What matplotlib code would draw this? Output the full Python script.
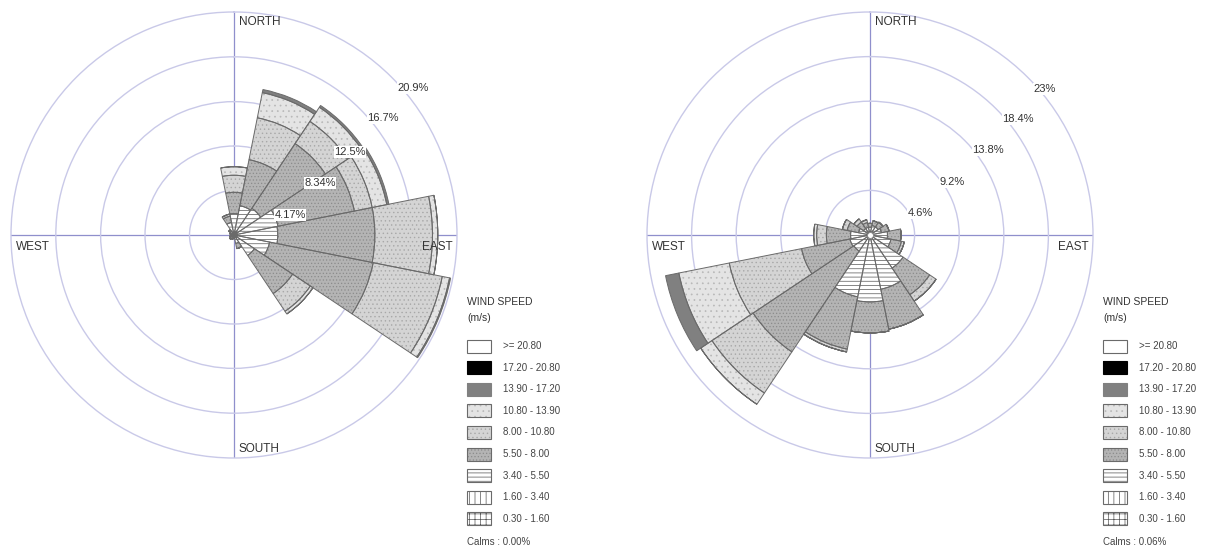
import numpy as np
import matplotlib
matplotlib.use('Agg')
import matplotlib.pyplot as plt
from matplotlib.patches import Rectangle

plt.rcParams['font.family'] = ['Liberation Sans', 'DejaVu Sans']
plt.rcParams['hatch.linewidth'] = 0.5

# 16 compass sectors, clockwise from north
directions = ['N', 'NNE', 'NE', 'ENE', 'E', 'ESE', 'SE', 'SSE',
              'S', 'SSW', 'SW', 'WSW', 'W', 'WNW', 'NW', 'NNW']

speed_bins = ['0.30 - 1.60', '1.60 - 3.40', '3.40 - 5.50', '5.50 - 8.00',
              '8.00 - 10.80', '10.80 - 13.90', '13.90 - 17.20',
              '17.20 - 20.80', '>= 20.80']

# frequency (%) per speed bin for each direction - station A
freq_a = [
    [0.0, 0.1, 0.1, 0.1, 0.1, 0.1, 0.1, 0.0, 0.0, 0.0, 0.0, 0.0, 0.0, 0.0, 0.0, 0.0],  # 0.3-1.6
    [0.2, 0.2, 0.2, 0.2, 0.2, 0.2, 0.2, 0.1, 0.0, 0.0, 0.0, 0.0, 0.0, 0.0, 0.1, 0.2],  # 1.6-3.4
    [1.8, 2.5, 2.7, 3.9, 3.8, 3.1, 2.0, 0.7, 0.3, 0.4, 0.4, 0.4, 0.3, 0.4, 0.4, 1.0],  # 3.4-5.5
    [2.0, 4.4, 7.3, 7.3, 9.1, 9.9, 4.3, 0.5, 0.0, 0.0, 0.1, 0.0, 0.0, 0.0, 0.1, 0.6],  # 5.5-8
    [1.6, 4.0, 2.5, 1.7, 5.4, 6.6, 2.0, 0.0, 0.0, 0.0, 0.0, 0.0, 0.0, 0.0, 0.0, 0.2],  # 8-10.8
    [0.8, 2.4, 1.6, 1.4, 0.5, 0.7, 0.3, 0.0, 0.0, 0.0, 0.0, 0.0, 0.0, 0.0, 0.0, 0.0],  # 10.8-13.9
    [0.0, 0.3, 0.2, 0.2, 0.0, 0.1, 0.0, 0.0, 0.0, 0.0, 0.0, 0.0, 0.0, 0.0, 0.0, 0.0],  # 13.9-17.2
    [0.0] * 16,
    [0.0] * 16,
]

# station B
freq_b = [
    [0.1, 0.1, 0.1, 0.1, 0.1, 0.1, 0.1, 0.1, 0.1, 0.1, 0.1, 0.1, 0.1, 0.1, 0.1, 0.1],
    [0.2, 0.2, 0.2, 0.2, 0.2, 0.2, 0.2, 0.2, 0.2, 0.2, 0.2, 0.2, 0.2, 0.2, 0.2, 0.2],
    [0.5, 0.7, 0.7, 0.9, 1.5, 1.9, 3.8, 5.4, 6.6, 6.2, 1.7, 1.8, 1.7, 0.9, 0.5, 0.5],
    [0.4, 0.5, 0.6, 0.8, 1.4, 1.1, 3.3, 4.2, 3.2, 5.5, 12.5, 5.1, 2.5, 1.2, 0.8, 0.5],
    [0.0, 0.0, 0.0, 0.0, 0.0, 0.3, 0.8, 0.0, 0.0, 0.3, 5.1, 7.6, 1.0, 0.5, 0.4, 0.3],
    [0.0, 0.0, 0.0, 0.0, 0.0, 0.0, 0.0, 0.0, 0.0, 0.0, 1.4, 5.3, 0.3, 0.0, 0.0, 0.0],
    [0.0, 0.0, 0.0, 0.0, 0.0, 0.0, 0.0, 0.0, 0.0, 0.0, 0.0, 1.4, 0.0, 0.0, 0.0, 0.0],
    [0.0] * 16,
    [0.0] * 16,
]

rings_a = [4.17, 8.34, 12.5, 16.7, 20.9]
ring_labels_a = ['4.17%', '8.34%', '12.5%', '16.7%', '20.9%']
rings_b = [4.6, 9.2, 13.8, 18.4, 23]
ring_labels_b = ['4.6%', '9.2%', '13.8%', '18.4%', '23%']
calms_a = '0.00%'
calms_b = '0.06%'

# fill / hatch style for each speed bin
bin_face = ['white', 'white', 'white', '#b4b4b4', '#d4d4d4', '#e4e4e4',
            '#808080', 'black', 'white']
bin_hatch = ['+++', '|||', '----', '.....', '....', '...', None, None, None]
bin_hatch_color = ['#555555', '#555555', '#555555', '#8c8c8c', '#a8a8a8', '#b8b8b8',
                   '#808080', 'black', 'white']
outline = '#6a6a6a'

ring_color = '#c9c9e8'
cross_color = '#8f8fcc'


def draw_rose(ax, freq, rings, ring_labels, label_offsets):
    theta = np.radians(np.arange(16) * 22.5)
    width = np.radians(22.5)
    ax.set_theta_zero_location('N')
    ax.set_theta_direction(-1)
    rmax = rings[-1]
    ax.set_ylim(0, rmax)

    # concentric rings, no angle grid
    ax.set_yticks(rings[:-1])
    ax.set_yticklabels([])
    ax.set_xticks([])
    ax.yaxis.grid(True, color=ring_color, linewidth=1.0)
    ax.spines['polar'].set_color(ring_color)
    ax.spines['polar'].set_linewidth(1.0)

    # N-S and E-W axis lines
    for t in [0, np.pi / 2, np.pi, 3 * np.pi / 2]:
        ax.plot([t, t], [0, rmax], color=cross_color, lw=0.9, zorder=0.5)

    bottom = np.zeros(16)
    for i, vals in enumerate(freq):
        vals = np.array(vals)
        if vals.sum() == 0:
            continue
        # fill + texture, then outline on top
        ax.bar(theta, vals, width=width, bottom=bottom, color=bin_face[i],
               hatch=bin_hatch[i], edgecolor=bin_hatch_color[i], linewidth=0,
               zorder=2)
        ax.bar(theta, vals, width=width, bottom=bottom, fill=False,
               edgecolor=outline, linewidth=0.7, zorder=3)
        bottom += vals

    # percentage labels along a diagonal
    for lab, (dx, dy) in zip(ring_labels, label_offsets):
        ax.text(0.5 + dx / 446, 0.5 + dy / 446, lab, transform=ax.transAxes,
                ha='center', va='center', fontsize=8, color='#333333', zorder=5,
                bbox=dict(facecolor='white', edgecolor='none', pad=0.4))

    kw = dict(transform=ax.transAxes, fontsize=8.5, color='#333333', va='center')
    ax.text(0.511, 0.978, 'NORTH', ha='left', **kw)
    ax.text(0.511, 0.020, 'SOUTH', ha='left', **kw)
    ax.text(0.010, 0.474, 'WEST', ha='left', **kw)
    ax.text(0.990, 0.474, 'EAST', ha='right', **kw)


def draw_legend(lax, x0, calms):
    lax.text(x0, 302, 'WIND SPEED', fontsize=7.5, va='center', color='#333333')
    lax.text(x0, 318, '(m/s)', fontsize=7.5, va='center', color='#333333')
    for k in range(len(speed_bins)):
        i = len(speed_bins) - 1 - k
        yc = 346 + k * 21.6
        lax.add_patch(Rectangle((x0, yc - 6.5), 24, 13, facecolor=bin_face[i],
                                hatch=bin_hatch[i], edgecolor=bin_hatch_color[i],
                                linewidth=0))
        lax.add_patch(Rectangle((x0, yc - 6.5), 24, 13, fill=False,
                                edgecolor=outline if i < 6 or i == 8 else bin_face[i],
                                linewidth=0.8))
        lax.text(x0 + 36, yc, speed_bins[i], fontsize=7, va='center', color='#444444')
    lax.text(x0, 542, 'Calms : ' + calms, fontsize=7, va='center', color='#444444')


fig = plt.figure(figsize=(12.23, 5.54), dpi=100)

ax1 = fig.add_axes([11 / 1223, 96 / 554, 446 / 1223, 446 / 554], projection='polar')
draw_rose(ax1, freq_a, rings_a, ring_labels_a,
          [(56, 20), (86, 52), (116, 83), (149, 117), (179, 147)])

ax2 = fig.add_axes([647 / 1223, 96 / 554, 446 / 1223, 446 / 554], projection='polar')
draw_rose(ax2, freq_b, rings_b, ring_labels_b,
          [(50, 22), (82, 53), (118, 85), (148, 116), (175, 146)])
ax2.scatter([0], [0], s=18, color='white', edgecolors='#888888', linewidths=0.6, zorder=4)

lax = fig.add_axes([0, 0, 1, 1])
lax.set_xlim(0, 1223)
lax.set_ylim(554, 0)
lax.axis('off')
draw_legend(lax, 467, calms_a)
draw_legend(lax, 1103, calms_b)

fig.savefig('out.png', dpi=100)
